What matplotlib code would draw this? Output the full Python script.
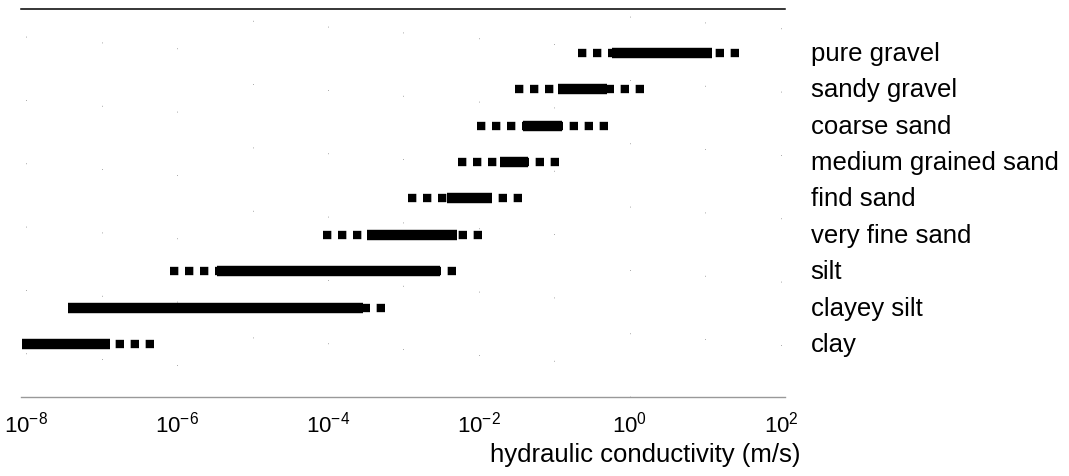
import numpy as np
import matplotlib
matplotlib.use('Agg')
import matplotlib.pyplot as plt
from matplotlib.ticker import LogFormatterSciNotation, NullLocator

plt.rcParams['font.family'] = ['Liberation Sans', 'DejaVu Sans']
plt.rcParams['mathtext.default'] = 'regular'

# soil types, top to bottom
soils = ['pure gravel', 'sandy gravel', 'coarse sand', 'medium grained sand',
         'find sand', 'very fine sand', 'silt', 'clayey silt', 'clay']

# log10 of hydraulic conductivity (m/s): full range and typical (core) range
full_lo = [-0.69, -1.52, -2.03, -2.28, -2.94, -4.07, -6.09, -7.44, -8.05]
core_lo = [-0.24, -0.95, -1.42, -1.72, -2.42, -3.48, -5.47, -7.44, -8.05]
core_hi = [1.09, -0.31, -0.90, -1.35, -1.83, -2.29, -2.52, -3.54, -6.89]
full_hi = [1.44, 0.19, -0.29, -0.94, -1.43, -1.96, -2.31, -3.25, -6.31]

decades = np.arange(-8, 3, 2)

fig = plt.figure(figsize=(10.69, 4.77), dpi=100)
ax = fig.add_axes([0.0201, 0.1656, 0.714, 0.8134])
ax.set_xscale('log')

y = np.arange(len(soils))
lo, clo = 10.0 ** np.array(full_lo), 10.0 ** np.array(core_lo)
chi, hi = 10.0 ** np.array(core_hi), 10.0 ** np.array(full_hi)

# faint decade gridlines, mostly dropped out
for d in range(-8, 3):
    ax.axvline(10.0 ** d, color='0.55', lw=0.6, ls=(7 * d % 40, (1, 75)), zorder=0)

dots = dict(color='black', lw=6, linestyle=(0, (1, 0.8)), capstyle='butt')
for i in y:
    if clo[i] > lo[i]:
        ax.hlines(i, lo[i], clo[i], **dots)
    if hi[i] > chi[i]:
        ax.hlines(i, hi[i], chi[i], **dots)
    ax.hlines(i, clo[i], chi[i], color='black', lw=7.5, capstyle='butt')

ax.set_xlim(10 ** -8.06, 10 ** 2.05)
ax.set_ylim(len(soils) - 1 + 1.46, -1.21)

ax.set_xticks(10.0 ** decades)
ax.xaxis.set_major_formatter(LogFormatterSciNotation())
ax.xaxis.set_minor_locator(NullLocator())
ax.tick_params(axis='x', length=0, pad=10, labelsize=16)
ax.set_yticks([])

for s in ['left', 'right']:
    ax.spines[s].set_visible(False)
ax.spines['top'].set_color('black')
ax.spines['top'].set_linewidth(1.1)
ax.spines['bottom'].set_color('0.6')
ax.spines['bottom'].set_linewidth(1.0)

for i, name in enumerate(soils):
    ax.annotate(name, xy=(1.0, i), xycoords=('axes fraction', 'data'),
                xytext=(26, 0), textcoords='offset pixels',
                ha='left', va='center', fontsize=18.5, annotation_clip=False)

fig.text(800 / 1069, 0.046, 'hydraulic conductivity (m/s)',
         ha='right', va='center', fontsize=18.5)

fig.savefig('out.png', dpi=100)
